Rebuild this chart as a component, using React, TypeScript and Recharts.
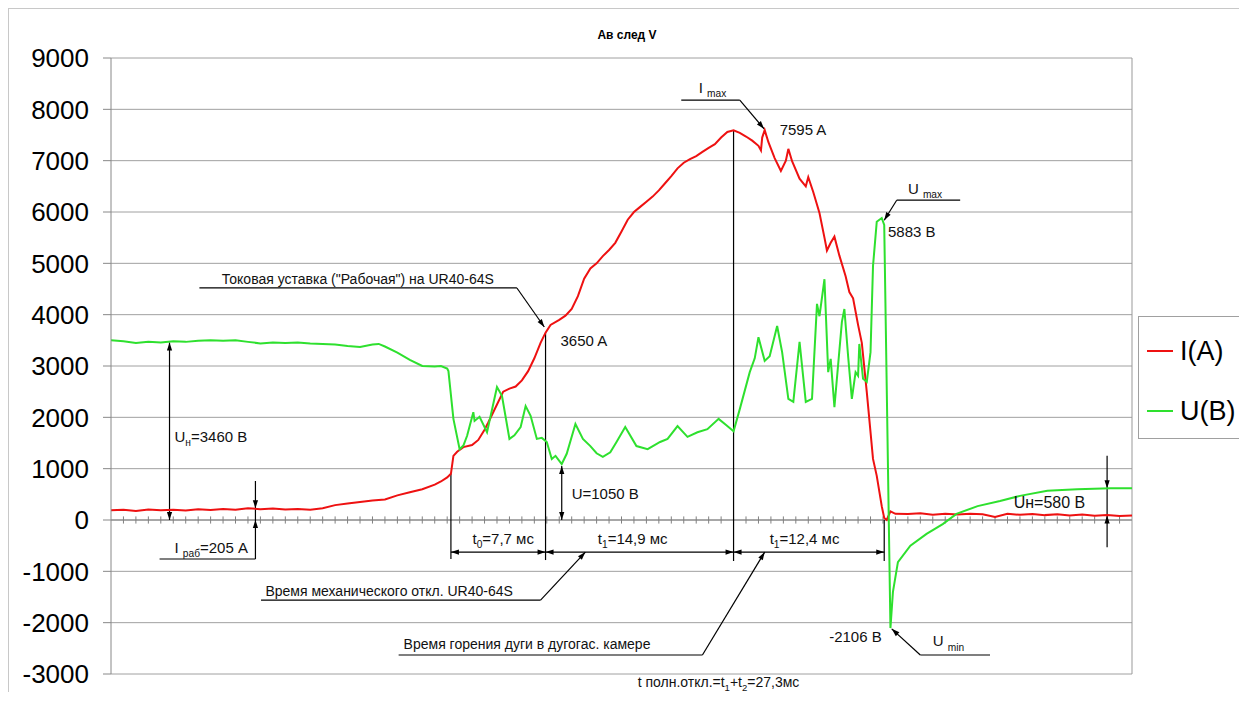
import React from 'react';
import { LineChart, Line, XAxis, YAxis, CartesianGrid, ReferenceLine, ReferenceDot, Legend } from 'recharts';

// I(A), time in ms
const currentTimes = [
  0, 1, 2, 3, 4, 5, 6, 7, 8, 9,
  10, 11, 12, 13, 14, 15, 16, 17, 18, 19,
  20, 21, 22, 23, 24, 25, 26, 26.5, 27, 27.3,
  27.5, 27.8, 28.3, 29, 29.5, 30, 30.3, 31, 31.5, 32,
  32.5, 33, 33.5, 34, 34.5, 34.9, 35.3, 36, 36.5, 37,
  37.5, 38, 38.5, 39, 39.5, 40, 40.5, 41, 41.5, 42,
  42.5, 43, 43.5, 44, 44.5, 45, 45.5, 46, 46.5, 47,
  47.5, 48, 48.5, 49, 49.5, 50, 50.5, 51, 51.5, 52,
  52.2, 52.3, 52.5, 52.8, 53.3, 53.8, 54.2, 54.4, 54.7, 55.3,
  55.8, 56, 56.4, 56.9, 57.3, 57.5, 57.8, 58.1, 58.5, 59,
  59.3, 59.6, 60, 60.3, 60.7, 61.2, 61.5, 61.9, 62.1, 62.3,
  62.6, 63, 64, 65, 66, 67, 68, 69, 70, 71,
  72, 73, 74, 75, 76, 77, 78, 79, 80, 81,
  82,
];
const currentValues = [
  190, 200, 175, 205, 190, 200, 185, 210, 195, 215,
  200, 230, 210, 225, 205, 215, 200, 230, 290, 320,
  350, 380, 400, 480, 540, 600, 690, 750, 830, 900,
  1250, 1330, 1420, 1460, 1560, 1760, 1900, 2250, 2500, 2560,
  2600, 2720, 2900, 3150, 3450, 3650, 3800, 3900, 3980, 4110,
  4360, 4700, 4900, 5000, 5140, 5260, 5400, 5620, 5850, 6000,
  6100, 6200, 6300, 6420, 6560, 6700, 6850, 6960, 7030, 7090,
  7170, 7250, 7320, 7450, 7560, 7590, 7540, 7470, 7390, 7290,
  7200, 7450, 7595, 7360, 7050, 6800, 7000, 7230, 6990, 6650,
  6500, 6680, 6390, 5980, 5500, 5250, 5400, 5520, 5150, 4750,
  4440, 4320, 3800, 3450, 2490, 1190, 860, 270, 40, 0,
  170, 120, 115, 130, 100, 120, 105, 120, 110, 60,
  120, 100, 115, 95, 110, 90, 105, 85, 95, 80,
  90,
];

// U(B), time in ms
const voltageTimes = [
  0, 1, 2, 3, 4, 5, 6, 7, 8, 9,
  10, 11, 12, 13, 14, 15, 16, 17, 18, 19,
  20, 21, 21.5, 22, 23, 24, 25, 26, 26.5, 27,
  27.1, 27.5, 28, 28.3, 28.6, 29.1, 29.2, 29.6, 30.2, 31,
  31.4, 32, 32.4, 32.9, 33.3, 33.7, 34.2, 34.6, 35, 35.4,
  35.7, 36.2, 36.6, 37.3, 37.9, 38.5, 39, 39.5, 40.1, 40.6,
  41.3, 42.2, 43.1, 44.1, 44.7, 45.5, 46.3, 47.1, 47.9, 48.8,
  49.4, 50, 50.5, 51.3, 51.7, 52, 52.5, 52.9, 53.5, 53.9,
  54.4, 54.8, 55.3, 55.8, 56.3, 56.7, 56.9, 57.3, 57.6, 57.8,
  58.1, 58.7, 58.9, 59.2, 59.5, 59.8, 60, 60.1, 60.4, 60.7,
  61, 61.2, 61.5, 61.9, 62.1, 62.6, 62.8, 63.2, 64.2, 65.5,
  66.8, 67.9, 69.6, 71.4, 73, 75.2, 77.6, 80.3, 82,
];
const voltageValues = [
  3500, 3480, 3450, 3470, 3460, 3480, 3470, 3490, 3500, 3490,
  3500, 3470, 3440, 3460, 3450, 3460, 3440, 3430, 3420, 3390,
  3370, 3420, 3430, 3380, 3260, 3120, 3000, 2990, 3000, 2950,
  2900, 1970, 1380, 1450, 1640, 2100, 1930, 2010, 1710, 2590,
  2420, 1580, 1650, 1810, 2220, 2030, 1580, 1600, 1520, 1190,
  1250, 1090, 1290, 1870, 1580, 1440, 1300, 1230, 1320, 1520,
  1810, 1440, 1380, 1520, 1580, 1830, 1620, 1710, 1770, 1970,
  1850, 1730, 2160, 2880, 3150, 3560, 3100, 3190, 3780, 3270,
  2360, 2300, 3470, 2300, 2360, 4210, 3970, 4690, 2880, 3140,
  2200, 3860, 4110, 3190, 2360, 2880, 2810, 3430, 2750, 2690,
  3270, 4950, 5810, 5883, 5750, -2106, -1400, -820, -500, -270,
  -80, 120, 270, 370, 470, 570, 600, 620, 620,
];

const yTicks = [-3000, -2000, -1000, 0, 1000, 2000, 3000, 4000, 5000, 6000, 7000, 8000, 9000];
const msTicks = Array.from({ length: 81 }, (_, i) => i + 1);

const currentData = currentTimes.map((t, i) => ({ t, v: currentValues[i] }));
const voltageData = voltageTimes.map((t, i) => ({ t, v: voltageValues[i] }));

// annotation leader lines, in (ms, value)
type Guide = { from: [number, number]; to: [number, number]; head?: 'end' | 'both' };
const guides: Guide[] = [
  { from: [4.7, 3460], to: [4.7, 0], head: 'both' },
  { from: [11.6, 760], to: [11.6, 230], head: 'end' },
  { from: [11.6, 230], to: [11.6, 0] },
  { from: [11.6, -760], to: [11.6, 0], head: 'end' },
  { from: [3.9, -760], to: [11.6, -760] },
  { from: [7.1, 4520], to: [32.6, 4520] },
  { from: [32.6, 4520], to: [34.8, 3760], head: 'end' },
  { from: [27.3, 900], to: [27.3, -760] },
  { from: [34.9, 3650], to: [34.9, -780] },
  { from: [50.0, 7590], to: [50.0, -800] },
  { from: [62.1, 0], to: [62.1, -800] },
  { from: [27.3, -625], to: [34.9, -625], head: 'both' },
  { from: [34.9, -625], to: [50.0, -625], head: 'both' },
  { from: [50.0, -625], to: [62.1, -625], head: 'both' },
  { from: [12.05, -1560], to: [34.5, -1560] },
  { from: [34.5, -1560], to: [38.1, -625], head: 'end' },
  { from: [23.1, -2630], to: [47.5, -2630] },
  { from: [47.5, -2630], to: [52.5, -625], head: 'end' },
  { from: [36.2, 1050], to: [36.2, 0], head: 'both' },
  { from: [45.8, 8180], to: [50.5, 8180] },
  { from: [50.5, 8180], to: [52.45, 7620], head: 'end' },
  { from: [68.2, 6230], to: [63.1, 6230] },
  { from: [63.1, 6230], to: [62.1, 5840], head: 'end' },
  { from: [70.6, -2630], to: [65.0, -2630] },
  { from: [65.0, -2630], to: [62.7, -2120], head: 'end' },
  { from: [80.0, 1250], to: [80.0, 620], head: 'end' },
  { from: [80.0, 620], to: [80.0, 90] },
  { from: [80.0, -530], to: [80.0, 90], head: 'end' },
];

type Note = { at: [number, number]; text: string; anchor?: 'start' | 'middle' | 'end'; size?: number };
const notes: Note[] = [
  { at: [5.1, 1630], text: 'U_{н}=3460 В' },
  { at: [5.1, -545], text: 'I _{раб}=205 A' },
  { at: [8.9, 4700], text: 'Токовая уставка ("Рабочая") на UR40-64S', size: 14 },
  { at: [36.1, 3490], text: '3650 A' },
  { at: [31.5, -370], text: 't_{0}=7,7 мс', anchor: 'middle' },
  { at: [41.9, -370], text: 't_{1}=14,9 мс', anchor: 'middle' },
  { at: [55.7, -370], text: 't_{1}=12,4 мс', anchor: 'middle' },
  { at: [12.4, -1380], text: 'Время механического откл. UR40-64S', size: 14 },
  { at: [23.5, -2415], text: 'Время горения дуги в дугогас. камере', size: 14 },
  { at: [42.3, -3156], text: 't полн.откл.=t_{1}+t_{2}=27,3мс', size: 14 },
  { at: [47.2, 8430], text: 'I _{max}' },
  { at: [53.7, 7600], text: '7595 A' },
  { at: [64.0, 6450], text: 'U _{max}' },
  { at: [62.4, 5610], text: '5883 B' },
  { at: [61.9, -2280], text: '-2106 В', anchor: 'end' },
  { at: [66.0, -2360], text: 'U _{min}' },
  { at: [37.0, 510], text: 'U=1050 В' },
  { at: [72.5, 350], text: 'Uн=580 В', size: 16 },
];

const FONT = '"Liberation Sans", Arial, sans-serif';

function head(x: number, y: number, fx: number, fy: number, key: string) {
  const a = Math.atan2(y - fy, x - fx);
  const L = 8;
  const W = 2.6;
  const bx = x - L * Math.cos(a);
  const by = y - L * Math.sin(a);
  const pts = [
    [x, y],
    [bx + W * Math.sin(a), by - W * Math.cos(a)],
    [bx - W * Math.sin(a), by + W * Math.cos(a)],
  ];
  return <polygon key={key} points={pts.map((p) => p.join(',')).join(' ')} fill="#000" />;
}

const guideShape = (kind?: 'end' | 'both') => (p: any) => {
  const { x1, y1, x2, y2 } = p;
  return (
    <g>
      <line x1={x1} y1={y1} x2={x2} y2={y2} stroke="#000" strokeWidth={1.2} />
      {kind ? head(x2, y2, x1, y1, 'e') : null}
      {kind === 'both' ? head(x1, y1, x2, y2, 's') : null}
    </g>
  );
};

function NoteText({ x, y, text, anchor = 'start', size = 15 }: any) {
  const parts = text.split(/(_\{[^}]*\})/).filter(Boolean);
  let sub = false;
  return (
    <text x={x} y={y} dy="0.35em" textAnchor={anchor} fontSize={size} fontFamily={FONT} fill="#111">
      {parts.map((part: string, i: number) => {
        if (part.startsWith('_{')) {
          sub = true;
          return (
            <tspan key={i} fontSize={size * 0.68} dy={size * 0.28}>
              {part.slice(2, -1)}
            </tspan>
          );
        }
        const dy = sub ? -size * 0.28 : undefined;
        sub = false;
        return (
          <tspan key={i} dy={dy}>
            {part}
          </tspan>
        );
      })}
    </text>
  );
}

const renderLegend = (props: any) => (
  <div
    style={{
      width: 106,
      height: 123,
      boxSizing: 'border-box',
      border: '1px solid #a0a0a0',
      background: '#fff',
      fontFamily: FONT,
      paddingTop: 16,
    }}
  >
    {(props.payload || []).map((item: any) => (
      <div key={item.value} style={{ display: 'flex', alignItems: 'center', height: 36, marginBottom: 24 }}>
        <span style={{ display: 'inline-block', width: 26, height: 2, background: item.color, marginLeft: 8, marginRight: 7 }} />
        <span style={{ fontSize: 27, color: '#000' }}>{item.value}</span>
      </div>
    ))}
  </div>
);

export default function App() {
  return (
    <div
      style={{
        position: 'relative',
        width: 1238,
        height: 692,
        boxSizing: 'border-box',
        border: '1px solid #c8c8c8',
        marginBottom: -8,
        background: '#fff',
      }}
    >
      <div
        style={{
          position: 'absolute',
          top: 19,
          left: 0,
          width: '100%',
          textAlign: 'center',
          fontFamily: FONT,
          fontWeight: 'bold',
          fontSize: 12,
          zIndex: 2,
        }}
      >
        Ав след V
      </div>
      <LineChart width={1236} height={690} margin={{ top: 49, right: 113, bottom: 25, left: 8 }}>
        <CartesianGrid vertical={false} stroke="#a0a0a0" strokeWidth={1} />
        <XAxis dataKey="t" type="number" domain={[0, 82]} allowDataOverflow hide />
        <YAxis
          type="number"
          domain={[-3000, 9000]}
          ticks={yTicks}
          width={94}
          interval={0}
          tickSize={8}
          tickMargin={14}
          axisLine={{ stroke: '#888' }}
          tickLine={{ stroke: '#888' }}
          tick={{ fontSize: 26, fill: '#000', fontFamily: FONT }}
        />
        <ReferenceLine x={82} stroke="#999" ifOverflow="visible" />
        <ReferenceLine y={0} stroke="#808080" />
        {msTicks.map((t) => (
          <ReferenceLine
            key={'tk' + t}
            segment={[
              { x: t, y: -70 },
              { x: t, y: 70 },
            ]}
            stroke="#808080"
          />
        ))}
        {guides.map((g, i) => (
          <ReferenceLine
            key={'g' + i}
            ifOverflow="visible"
            segment={[
              { x: g.from[0], y: g.from[1] },
              { x: g.to[0], y: g.to[1] },
            ]}
            shape={guideShape(g.head)}
          />
        ))}
        <Line
          data={currentData}
          dataKey="v"
          name="I(A)"
          type="linear"
          stroke="#ee1111"
          strokeWidth={2}
          dot={false}
          isAnimationActive={false}
        />
        <Line
          data={voltageData}
          dataKey="v"
          name="U(B)"
          type="linear"
          stroke="#2ee02e"
          strokeWidth={2}
          dot={false}
          isAnimationActive={false}
        />
        {notes.map((n, i) => (
          <ReferenceDot
            key={'n' + i}
            x={n.at[0]}
            y={n.at[1]}
            ifOverflow="visible"
            shape={(p: any) => <NoteText x={p.cx} y={p.cy} text={n.text} anchor={n.anchor} size={n.size} />}
          />
        ))}
        <Legend
          layout="vertical"
          align="center"
          verticalAlign="middle"
          content={renderLegend}
          wrapperStyle={{ left: 1129, top: 307, width: 106, height: 123 }}
        />
      </LineChart>
    </div>
  );
}
